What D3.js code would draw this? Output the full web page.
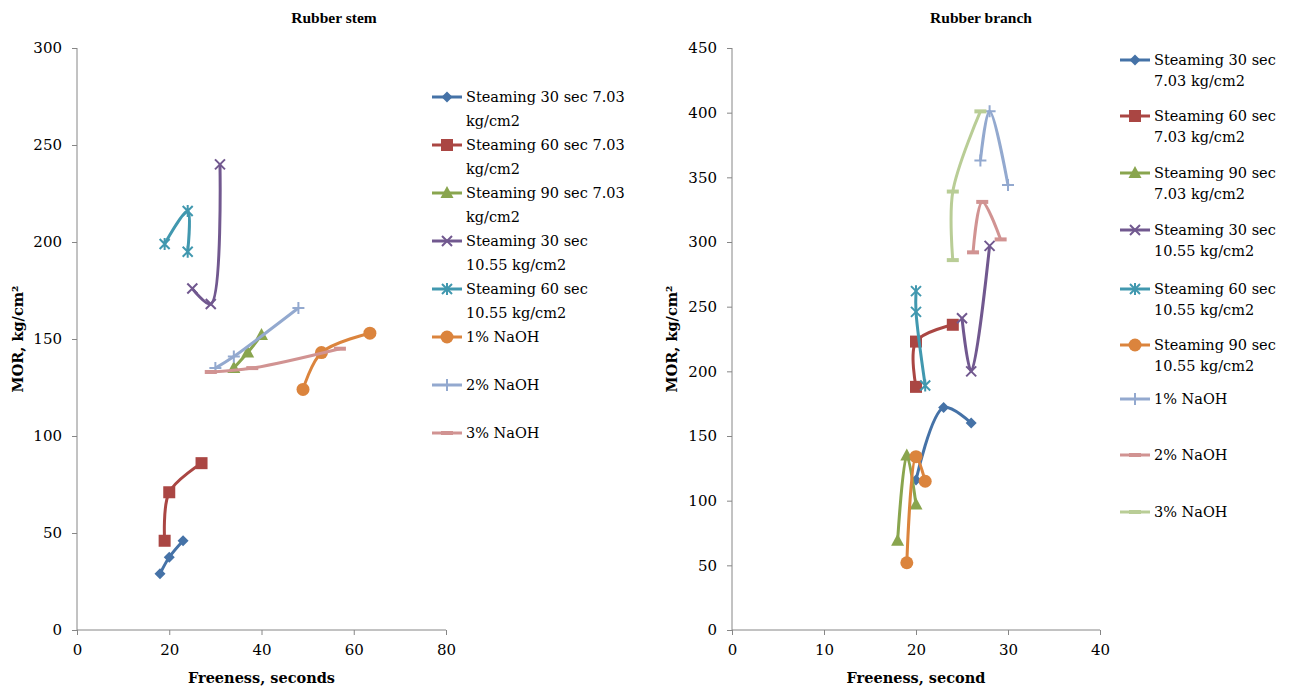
<!DOCTYPE html>
<html><head><meta charset="utf-8">
<script src="https://cdn.jsdelivr.net/npm/d3@7"></script>
<style>body{margin:0;background:#fff}svg{display:block}text{font-family:"DejaVu Serif",serif;fill:#000}</style>
</head><body><svg id="c" width="1291" height="689"></svg>
<script>
const colors = ["#4572A7","#AA4643","#89A54E","#71588F","#4198AF","#DB843D","#93A9CF","#D19392","#B9CD96"];
const markers = ["diamond","square","triangle","x","star","circle","plus","dash","dash"];

// Rubber stem (left)
const stemNames = ["Steaming 30 sec 7.03 kg/cm2","Steaming 60 sec 7.03 kg/cm2","Steaming 90 sec 7.03 kg/cm2","Steaming 30 sec 10.55 kg/cm2","Steaming 60 sec 10.55 kg/cm2","1% NaOH","2% NaOH","3% NaOH"];
const stemS30_703 = [[18,29],[20,37.5],[23,46]];
const stemS60_703 = [[19,46],[20,71],[27,86]];
const stemS90_703 = [[34,135],[37,143],[40,152]];
const stemS30_1055 = [[25,176],[29,168],[31,240]];
const stemS60_1055 = [[19,199],[24,216],[24,195]];
const stemNaOH1 = [[49,124],[53,143],[63.5,153]];
const stemNaOH2 = [[30,135],[34,141],[48,166]];
const stemNaOH3 = [[29,133],[38,135],[57,145]];
const stemXTicks = [0,20,40,60,80];
const stemYTicks = [0,50,100,150,200,250,300];

// Rubber branch (right)
const brNames = ["Steaming 30 sec 7.03 kg/cm2","Steaming 60 sec 7.03 kg/cm2","Steaming 90 sec 7.03 kg/cm2","Steaming 30 sec 10.55 kg/cm2","Steaming 60 sec 10.55 kg/cm2","Steaming 90 sec 10.55 kg/cm2","1% NaOH","2% NaOH","3% NaOH"];
const brS30_703 = [[20,116],[23,172],[26,160]];
const brS60_703 = [[20,188],[20,223],[24,236]];
const brS90_703 = [[18,69],[19,135],[20,97]];
const brS30_1055 = [[25,241],[26,200],[28,297]];
const brS60_1055 = [[20,262],[20,246],[21,189]];
const brS90_1055 = [[19,52],[20,134],[21,115]];
const brNaOH1 = [[27,363],[28,401],[30,344]];
const brNaOH2 = [[26.2,292],[27.2,331],[29.2,302]];
const brNaOH3 = [[24,286],[24,339],[27,401]];
const brXTicks = [0,10,20,30,40];
const brYTicks = [0,50,100,150,200,250,300,350,400,450];

const svg = d3.select("#c");

function symbolPath(type, g, color){
  const s = 5.5;
  if(type==="diamond") g.append("path").attr("d",`M0,${-s}L${s},0L0,${s}L${-s},0Z`).attr("fill",color);
  else if(type==="square") g.append("rect").attr("x",-6).attr("y",-6).attr("width",12).attr("height",12).attr("fill",color);
  else if(type==="triangle") g.append("path").attr("d","M0,-7L6.5,5L-6.5,5Z").attr("fill",color);
  else if(type==="circle") g.append("circle").attr("r",6.5).attr("fill",color);
  else if(type==="x") g.append("path").attr("d","M-5,-5L5,5M-5,5L5,-5").attr("stroke",color).attr("stroke-width",2);
  else if(type==="star") g.append("path").attr("d","M-5,-5L5,5M-5,5L5,-5M0,-6L0,6").attr("stroke",color).attr("stroke-width",2);
  else if(type==="plus") g.append("path").attr("d","M-6,0L6,0M0,-6L0,6").attr("stroke",color).attr("stroke-width",2);
  else if(type==="dash") g.append("rect").attr("x",-6).attr("y",-2).attr("width",12).attr("height",4).attr("fill",color);
}

function splitName(n, mode){
  if(mode==="left") {
    if(n.indexOf("7.03")>=0) return [n.replace(" kg/cm2",""), "kg/cm2"];
    if(n.indexOf("10.55")>=0) return [n.replace(" 10.55 kg/cm2",""), "10.55 kg/cm2"];
    return [n];
  }
  const m = n.match(/^(Steaming \d+ sec) (.*)$/);
  return m ? [m[1], m[2]] : [n];
}

function chart(cfg){
  const x = d3.scaleLinear().domain(cfg.xd).range(cfg.xr);
  const y = d3.scaleLinear().domain(cfg.yd).range(cfg.yr);
  const g = svg.append("g");
  const ya = g.append("g").attr("transform",`translate(${cfg.xr[0]},0)`)
    .call(d3.axisLeft(y).tickValues(cfg.yt).tickSize(5).tickPadding(10));
  const xa = g.append("g").attr("transform",`translate(0,${cfg.yr[0]})`)
    .call(d3.axisBottom(x).tickValues(cfg.xt).tickSize(5).tickPadding(9));
  [ya,xa].forEach(a=>{a.selectAll("path,line").attr("stroke","#868686");a.selectAll("text").style("font-family","'DejaVu Serif',serif").style("font-size","15px");});
  ya.select(".domain").attr("d",`M0,${cfg.yr[1]}V${cfg.yr[0]}`);
  xa.select(".domain").attr("d",`M${cfg.xr[0]},0H${cfg.xr[1]}`);
  const line = d3.line().x(d=>x(d[0])).y(d=>y(d[1])).curve(d3.curveCatmullRom.alpha(0.5));
  cfg.series.forEach((data,i)=>{
    g.append("path").datum(data).attr("d",line).attr("fill","none").attr("stroke",colors[cfg.ci[i]]).attr("stroke-width",3);
    data.forEach(d=>{
      const m = g.append("g").attr("transform",`translate(${x(d[0])},${y(d[1])})`);
      symbolPath(markers[cfg.ci[i]], m, colors[cfg.ci[i]]);
    });
  });
  g.append("text").attr("x",cfg.titleX).attr("y",23).attr("text-anchor","middle").style("font-family","'Liberation Serif',serif").style("font-weight","bold").style("font-size","15.5px").text(cfg.title);
  g.append("text").attr("x",(cfg.xr[0]+cfg.xr[1])/2).attr("y",683).attr("text-anchor","middle").style("font-weight","bold").style("font-size","14.5px").text(cfg.xlabel);
  g.append("text").attr("transform",`translate(${cfg.ylx},${(cfg.yr[0]+cfg.yr[1])/2}) rotate(-90)`).attr("text-anchor","middle").style("font-weight","bold").style("font-size","14.5px").text("MOR, kg/cm²");
  cfg.names.forEach((name,k)=>{
    const ci = cfg.ci[k];
    const lg = g.append("g").attr("transform",`translate(${cfg.lx},${cfg.ly[k]})`);
    lg.append("line").attr("x1",0).attr("x2",30).attr("y1",-5).attr("y2",-5).attr("stroke",colors[ci]).attr("stroke-width",3);
    const m = lg.append("g").attr("transform","translate(15,-5)");
    symbolPath(markers[ci], m, colors[ci]);
    splitName(name, cfg.split).forEach((t,j)=>{
      lg.append("text").attr("x",34).attr("y",j*cfg.lh).style("font-size","14.5px").text(t);
    });
  });
}

chart({xd:[0,80],xr:[77,446],yd:[0,300],yr:[630,48],xt:stemXTicks,yt:stemYTicks,
  series:[stemS30_703,stemS60_703,stemS90_703,stemS30_1055,stemS60_1055,stemNaOH1,stemNaOH2,stemNaOH3],
  ci:[0,1,2,3,4,5,6,7], names:stemNames, split:"left",
  title:"Rubber stem",titleX:334,xlabel:"Freeness, seconds",ylx:23,lx:432,lh:24,
  ly:[102,150,198,246,294,342,390,438]});
chart({xd:[0,40],xr:[732,1100],yd:[0,450],yr:[630,48],xt:brXTicks,yt:brYTicks,
  series:[brS30_703,brS60_703,brS90_703,brS30_1055,brS60_1055,brS90_1055,brNaOH1,brNaOH2,brNaOH3],
  ci:[0,1,2,3,4,5,6,7,8], names:brNames, split:"right",
  title:"Rubber branch",titleX:981,xlabel:"Freeness, second",ylx:677,lx:1120,lh:21,
  ly:[65,121,178,235,294,350,404,460,517]});
</script></body></html>
